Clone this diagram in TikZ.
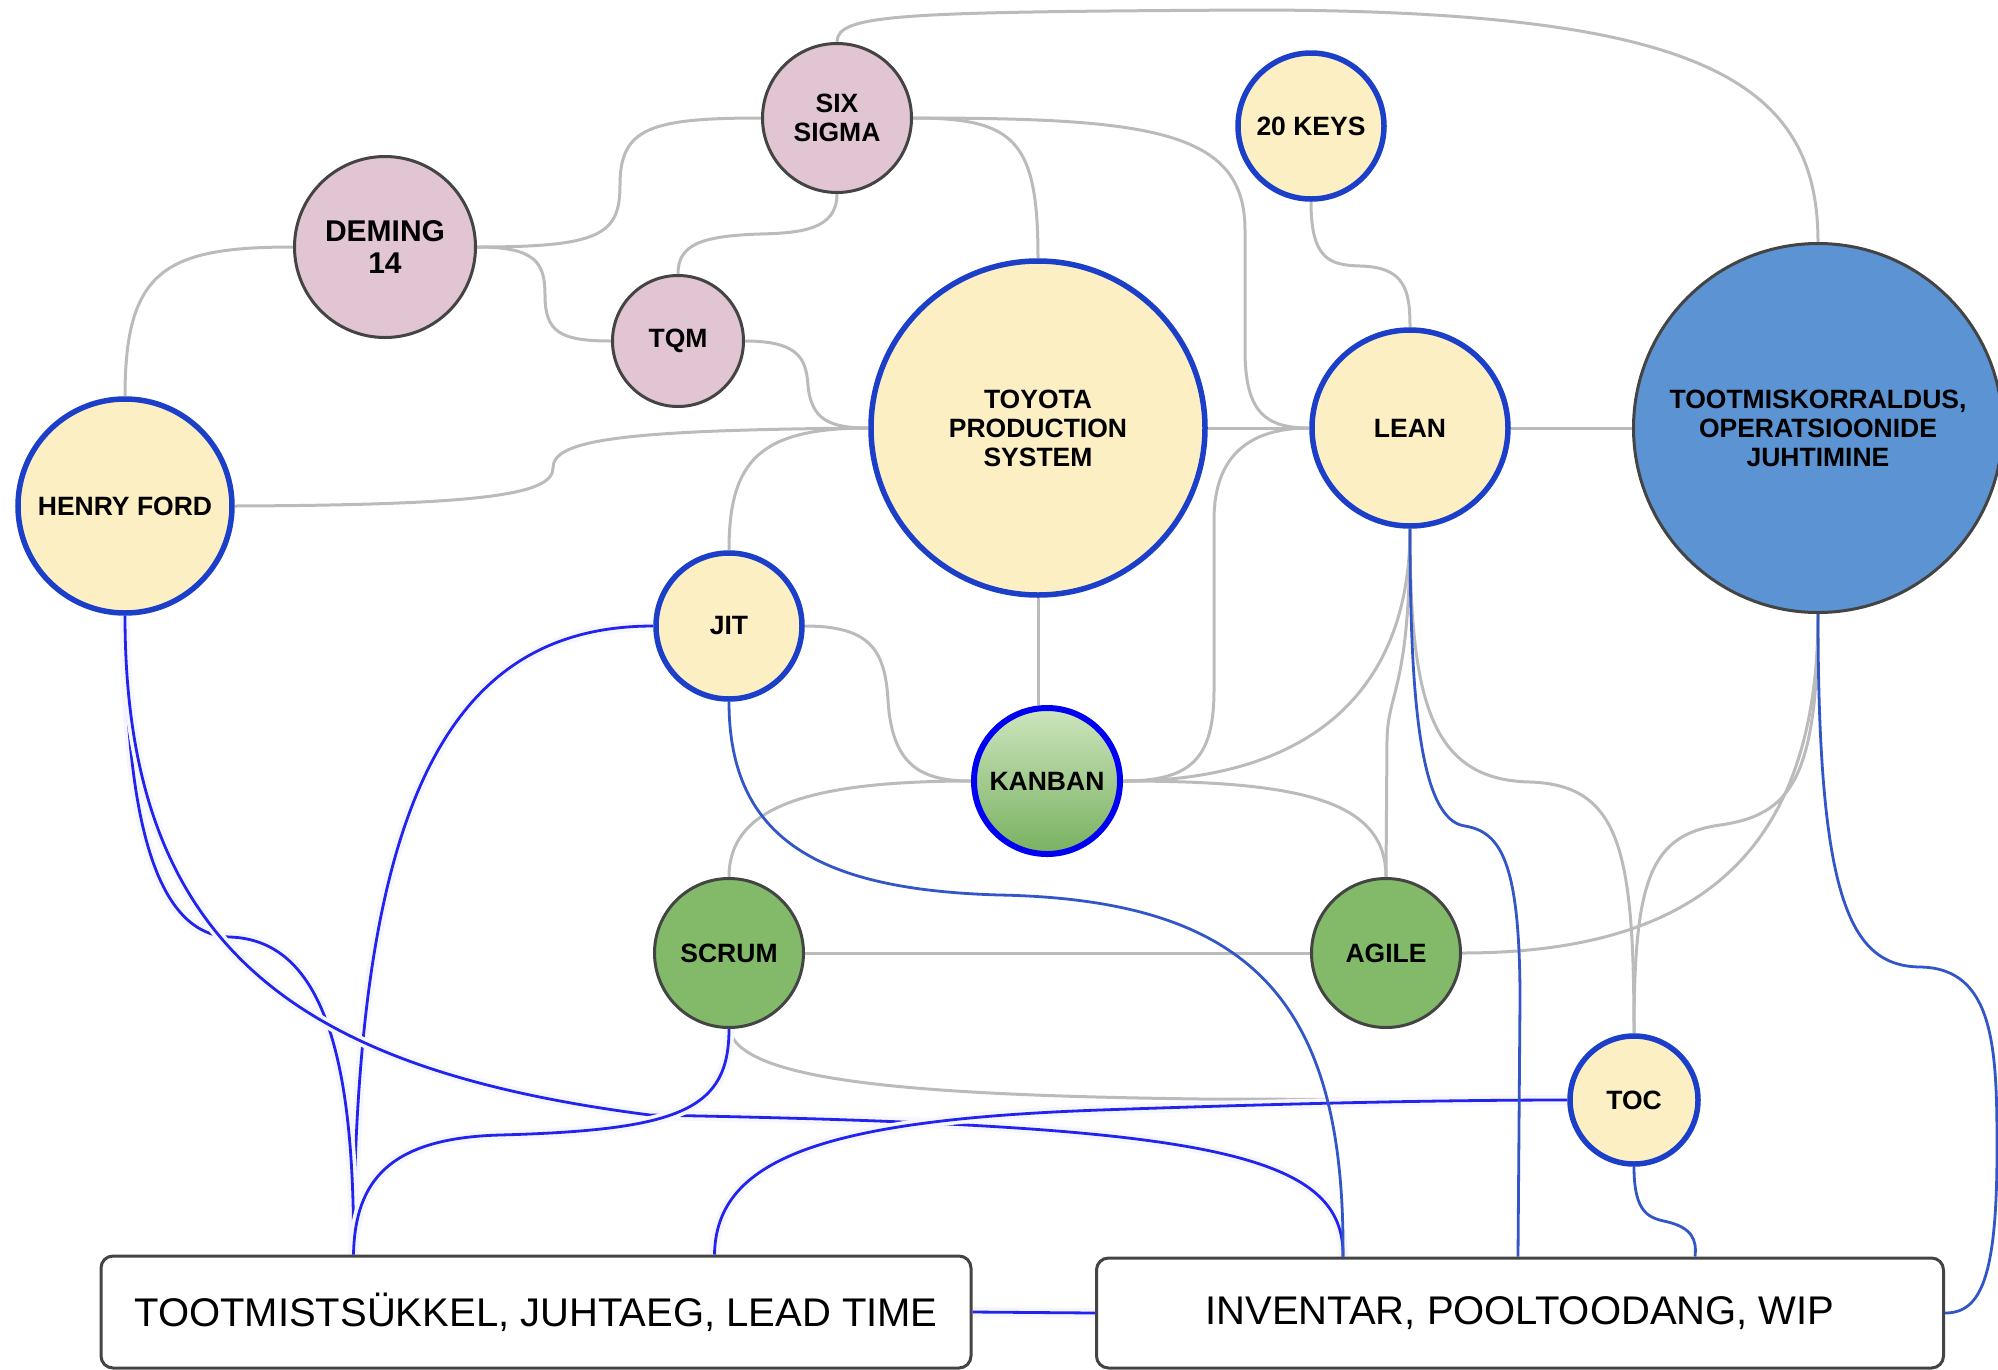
\documentclass[tikz,border=0pt]{standalone}
\usepackage{fontspec}
\setmainfont{Liberation Sans}
\usetikzlibrary{backgrounds}
\definecolor{cream}{HTML}{FCEFC4}
\definecolor{pinkf}{HTML}{E1C5D3}
\definecolor{greenf}{HTML}{82BA69}
\definecolor{bluef}{HTML}{5B93D3}
\definecolor{yborder}{HTML}{1B3FC8}
\definecolor{dborder}{HTML}{444444}
\definecolor{edgegray}{HTML}{BBBBBB}
\definecolor{vivid}{HTML}{2323EE}
\definecolor{midblue}{HTML}{3256C8}
\definecolor{kantop}{HTML}{CDE5BE}
\definecolor{kanbot}{HTML}{78B160}
\definecolor{halo}{HTML}{F6F6FE}
\tikzset{
  concept/.style={circle, inner sep=0pt, align=center, text=black,
    font=\fontsize{26.5}{29}\selectfont\bfseries},
  yellownode/.style={concept, fill=cream, draw=yborder, line width=5.5pt},
  pinknode/.style={concept, fill=pinkf, draw=dborder, line width=3pt},
  greennode/.style={concept, fill=greenf, draw=dborder, line width=3pt},
  kanbannode/.style={concept, top color=kantop, bottom color=kanbot, draw=blue!95!black, line width=6pt},
  mainnode/.style={concept, fill=bluef, draw=dborder, line width=3pt},
  boxnode/.style={rectangle, rounded corners=12pt, draw=dborder, line width=3pt, fill=white,
    inner sep=0pt, font=\fontsize{40}{48}\selectfont},
  gline/.style={draw=edgegray, line width=3pt},
  vline/.style={draw=vivid, line width=2.8pt, preaction={draw=halo, line width=10pt}},
  mline/.style={draw=midblue, line width=2.8pt},
}
\begin{document}
\begin{tikzpicture}[x=1pt, y=-1pt]
\useasboundingbox (0,0) rectangle (1998,1369);
% nodes
\node[pinknode, minimum size=149pt] (sixsigma) at (837,118) {SIX\\SIGMA};
\node[pinknode, minimum size=181pt, font=\fontsize{30}{32}\selectfont\bfseries] (deming) at (385,247) {DEMING\\14};
\node[pinknode, minimum size=131pt] (tqm) at (678,341) {TQM};
\node[yellownode, minimum size=214pt] (ford) at (125,506) {HENRY FORD};
\node[yellownode, minimum size=334pt] (tps) at (1038,428) {TOYOTA\\PRODUCTION\\SYSTEM};
\node[yellownode, minimum size=146pt] (keys) at (1311,126) {20 KEYS};
\node[yellownode, minimum size=196pt] (lean) at (1410,428) {LEAN};
\node[mainnode, minimum size=369pt] (toot) at (1818,428) {TOOTMISKORRALDUS,\\OPERATSIOONIDE\\JUHTIMINE};
\node[yellownode, minimum size=146pt] (jit) at (729,626) {JIT};
\node[kanbannode, minimum size=146pt] (kanban) at (1047,781) {KANBAN};
\node[greennode, minimum size=149pt] (scrum) at (729,953) {SCRUM};
\node[greennode, minimum size=149pt] (agile) at (1386,953) {AGILE};
\node[yellownode, minimum size=128pt] (toc) at (1634,1100) {TOC};
\node[boxnode, minimum width=870pt, minimum height=112pt] (box1) at (536,1312) {TOOTMISTSÜKKEL, JUHTAEG, LEAD TIME};
\node[boxnode, minimum width=847pt, minimum height=110pt] (box2) at (1520,1313) {INVENTAR, POOLTOODANG, WIP};
\path (box1.north west) ++(254,0) coordinate (b1a);
\path (box1.north west) ++(615,0) coordinate (b1b);
\path (box2.north west) ++(248,0) coordinate (b2a);
\path (box2.north west) ++(423,0) coordinate (b2b);
\path (box2.north west) ++(600,0) coordinate (b2c);
\begin{scope}[on background layer]
% blue halos first (under everything)
% gray connectors
\draw[gline] (ford.north) .. controls (125,270) and (165,247) .. (deming.west);
\draw[gline] (deming.east) .. controls (600,247) and (620,235) .. (620,185) .. controls (620,128) and (650,118) .. (sixsigma.west);
\draw[gline] (deming.east) .. controls (535,247) and (545,262) .. (545,295) .. controls (545,332) and (560,341) .. (tqm.west);
\draw[gline] (sixsigma.south) .. controls (837,230) and (800,233) .. (760,234) .. controls (700,236) and (678,245) .. (tqm.north);
\draw[gline] (sixsigma.north) .. controls (837,14) and (900,12) .. (1250,10) .. controls (1700,10) and (1818,80) .. (toot.north);
\draw[gline] (sixsigma.east) .. controls (1015,118) and (1038,140) .. (tps.north);
\draw[gline] (sixsigma.east) .. controls (1150,118) and (1245,130) .. (1245,230) -- (1245,350) .. controls (1245,412) and (1265,428) .. (lean.west);
\draw[gline] (tqm.east) .. controls (800,341) and (806,360) .. (808,385) .. controls (811,420) and (830,428) .. (tps.west);
\draw[gline] (ford.east) .. controls (480,505) and (553,495) .. (553,468) .. controls (553,440) and (620,430) .. (tps.west);
\draw[gline] (tps.west) .. controls (760,428) and (729,460) .. (jit.north);
\draw[gline] (tps.east) -- (lean.west);
\draw[gline] (tps.south) -- (tps.south |- kanban.north);
\draw[gline] (keys.south) .. controls (1311,260) and (1330,265) .. (1360,266) .. controls (1405,267) and (1410,290) .. (lean.north);
\draw[gline] (lean.east) -- (toot.west);
\draw[gline] (jit.east) .. controls (870,626) and (885,650) .. (888,700) .. controls (892,765) and (920,781) .. (kanban.west);
\draw[gline] (kanban.east) .. controls (1190,781) and (1214,760) .. (1214,690) -- (1214,520) .. controls (1214,455) and (1250,428) .. (lean.west);
\draw[gline] (kanban.east) .. controls (1300,781) and (1410,700) .. (lean.south);
\draw[gline] (kanban.west) .. controls (800,781) and (729,810) .. (scrum.north);
\draw[gline] (kanban.east) .. controls (1300,781) and (1386,800) .. (agile.north);
\draw[gline] (lean.south) .. controls (1410,690) and (1388,690) .. (1387,740) -- (agile.north);
\draw[gline] (lean.south) .. controls (1410,700) and (1430,780) .. (1530,782) .. controls (1620,785) and (1634,850) .. (toc.north);
\draw[gline] (scrum.east) -- (agile.west);
\draw[gline] (agile.east) .. controls (1700,953) and (1818,850) .. (toot.south);
\draw[gline] (toot.south) .. controls (1818,780) and (1790,815) .. (1720,825) .. controls (1650,835) and (1634,880) .. (toc.north);
\draw[gline] (scrum.south) .. controls (740,1080) and (900,1095) .. (1200,1099) -- (toc.west);
% blue connectors
\draw[vline] (jit.west) .. controls (450,626) and (355,800) .. (b1a);
\draw[vline] (ford.south) .. controls (125,800) and (150,935) .. (230,937) .. controls (320,940) and (355,1050) .. (b1a);
\draw[vline] (ford.south) .. controls (125,950) and (300,1070) .. (650,1115) .. controls (1200,1125) and (1345,1150) .. (b2a);
\draw[vline] (b1b) .. controls (716,1160) and (820,1120) .. (1100,1110) .. controls (1300,1103) and (1450,1100) .. (toc.west);
\draw[vline] (scrum.south) .. controls (729,1110) and (680,1130) .. (500,1135) .. controls (390,1138) and (355,1180) .. (b1a);
\draw[mline] (jit.south) .. controls (729,840) and (820,890) .. (1000,895) .. controls (1250,900) and (1345,1000) .. (b2a);
\draw[mline] (lean.south) .. controls (1410,700) and (1420,820) .. (1465,826) .. controls (1500,832) and (1520,860) .. (1520,1000) -- (b2b);
\draw[mline] (toc.south) .. controls (1634,1215) and (1650,1218) .. (1668,1222) .. controls (1692,1228) and (1697,1240) .. (b2c);
\draw[mline] (toot.south) .. controls (1818,900) and (1850,966) .. (1920,967) .. controls (1995,968) and (1997,1050) .. (1997,1150) .. controls (1997,1280) and (1980,1313) .. (box2.east);
\draw[vline] (box1.east) -- (box2.west);
\end{scope}
\end{tikzpicture}
\end{document}
